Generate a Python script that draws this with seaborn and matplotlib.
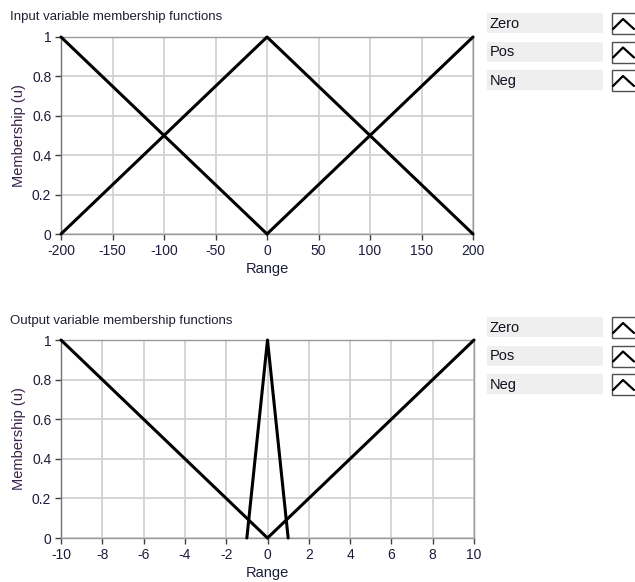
import matplotlib
matplotlib.use("Agg")
import matplotlib.pyplot as plt
import pandas as pd
import seaborn as sns
from matplotlib.patches import Rectangle
from matplotlib.lines import Line2D

# input variable membership functions
in_names = ["Zero", "Pos", "Neg"]
in_x = {"Zero": [-200, 0, 200], "Pos": [0, 200], "Neg": [-200, 0]}
in_y = {"Zero": [0, 1, 0], "Pos": [0, 1], "Neg": [1, 0]}
in_xticks = [-200, -150, -100, -50, 0, 50, 100, 150, 200]

# output variable membership functions
out_names = ["Zero", "Pos", "Neg"]
out_x = {"Zero": [-1, 0, 1], "Pos": [0, 10], "Neg": [-10, 0]}
out_y = {"Zero": [0, 1, 0], "Pos": [0, 1], "Neg": [1, 0]}
out_xticks = [-10, -8, -6, -4, -2, 0, 2, 4, 6, 8, 10]

yticks = [0, 0.2, 0.4, 0.6, 0.8, 1]
ytick_labels = ["0", "0.2", "0.4", "0.6", "0.8", "1"]

sns.set_style("white")
plt.rcParams["font.family"] = ["Liberation Sans", "DejaVu Sans"]

W, H = 635, 582
fig = plt.figure(figsize=(W / 100, H / 100), dpi=100)

TICK_COL = "#1c1c3c"
LBL_COL = "#3a2048"


def frame(x0, y0, x1, y1):
    return [x0 / W, 1 - y1 / H, (x1 - x0) / W, (y1 - y0) / H]


def draw_panel(rect, names, xs, ys, xticks, title, title_y, legend_top):
    ax = fig.add_axes(rect)
    for n in names:
        df = pd.DataFrame({"x": xs[n], "y": ys[n]})
        sns.lineplot(data=df, x="x", y="y", ax=ax, color="black", lw=2.2,
                     sort=False, estimator=None, clip_on=False, zorder=3)
    ax.set_xlim(xticks[0], xticks[-1])
    ax.set_ylim(0, 1)
    ax.set_xticks(xticks)
    ax.set_xticklabels([str(t) for t in xticks])
    ax.set_yticks(yticks)
    ax.set_yticklabels(ytick_labels)
    ax.grid(True, color="#d2d2d2", lw=1.3)
    for s in ax.spines.values():
        s.set_color("#9a9a9a")
        s.set_linewidth(1.0)
    ax.spines["left"].set_color("#707070")
    ax.tick_params(axis="both", direction="out", length=4, width=1,
                   color="#404040", labelsize=10, labelcolor=TICK_COL, pad=3,
                   left=True, bottom=True)
    ax.set_xlabel("Range", fontsize=10.5, color=TICK_COL, labelpad=3)
    ax.set_ylabel("Membership (u)", fontsize=10.5, color=LBL_COL, labelpad=4)
    fig.text(10 / W, 1 - title_y / H, title, fontsize=9.5, color="#202030",
             va="center", ha="left")

    # legend panel on the right
    for i, n in enumerate(names):
        top = legend_top + i * 28.5
        fig.patches.append(Rectangle((487 / W, 1 - (top + 20) / H), 116 / W, 20 / H,
                                     transform=fig.transFigure, facecolor="#efefef",
                                     edgecolor="none"))
        fig.text(490 / W, 1 - (top + 10.5) / H, n, fontsize=10.5, color="#101020",
                 va="center", ha="left")
        fig.patches.append(Rectangle((612 / W, 1 - (top + 21) / H), 26 / W, 21 / H,
                                     transform=fig.transFigure, facecolor="white",
                                     edgecolor="#505050", lw=1.0, clip_on=False))
        fig.lines.append(Line2D([613 / W, 623 / W, 634 / W],
                                [1 - (top + 16) / H, 1 - (top + 6) / H, 1 - (top + 16) / H],
                                transform=fig.transFigure, color="black", lw=1.6))
    return ax


ax1 = draw_panel(frame(61, 37, 473, 234), in_names, in_x, in_y, in_xticks,
                 "Input variable membership functions", 17, 13)
ax2 = draw_panel(frame(61, 340, 474, 538), out_names, out_x, out_y, out_xticks,
                 "Output variable membership functions", 321, 317)

fig.savefig("out.png", dpi=100)
